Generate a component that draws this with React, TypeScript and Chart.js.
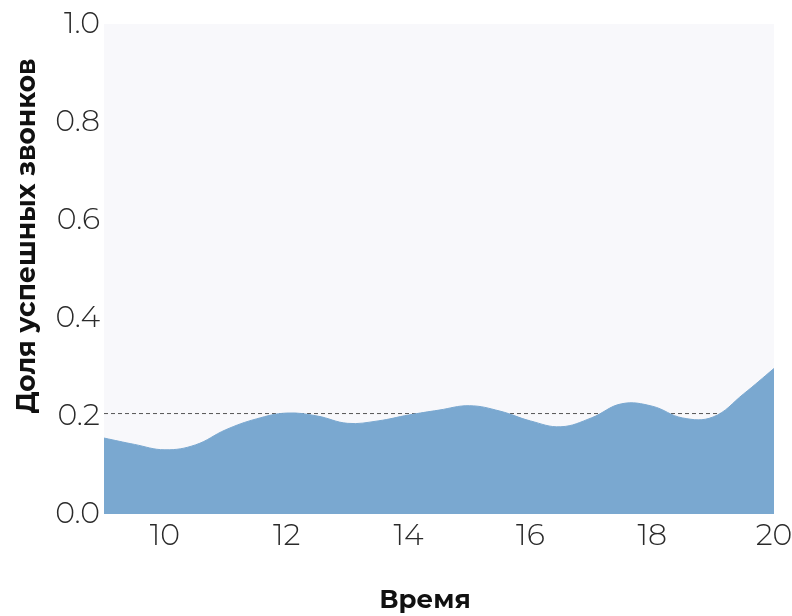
import React, { useEffect, useRef } from "react";
import { Chart, registerables } from "chart.js";

Chart.register(...registerables);

const hours = [9, 9.5, 10, 10.5, 11, 11.5, 12, 12.5, 13, 13.5, 14, 14.5, 15, 15.5, 16, 16.5, 17, 17.5, 18, 18.5, 19, 19.5, 20];
const shares = [0.155, 0.142, 0.131, 0.141, 0.172, 0.194, 0.206, 0.2, 0.185, 0.19, 0.202, 0.212, 0.221, 0.21, 0.19, 0.178, 0.196, 0.225, 0.22, 0.196, 0.198, 0.245, 0.297];
const meanShare = 0.205;
const xTicks = [10, 12, 14, 16, 18, 20];
const yTicks = [0, 0.2, 0.4, 0.6, 0.8, 1.0];
const xTitle = "Время";
const yTitle = "Доля успешных звонков";

const plotBg = {
  id: "plotBg",
  beforeDraw(chart: any) {
    const { ctx, chartArea } = chart;
    ctx.save();
    ctx.fillStyle = "#f8f8fb";
    ctx.fillRect(chartArea.left, chartArea.top, chartArea.right - chartArea.left, chartArea.bottom - chartArea.top);
    ctx.restore();
  },
};

const axisTitles = {
  id: "axisTitles",
  afterDraw(chart: any) {
    const { ctx } = chart;
    ctx.save();
    ctx.fillStyle = "#111";
    ctx.textAlign = "center";
    ctx.textBaseline = "middle";
    ctx.font = "bold 26px Montserrat, 'Open Sans', sans-serif";
    ctx.fillText(xTitle, 425, 600);
    ctx.font = "bold 26.5px Montserrat, 'Open Sans', sans-serif";
    ctx.translate(27, 236);
    ctx.rotate(-Math.PI / 2);
    ctx.fillText(yTitle, 0, 0);
    ctx.restore();
  },
};

export default function App() {
  const ref = useRef<HTMLCanvasElement>(null);
  useEffect(() => {
    const tickFont = { family: "Montserrat, Inter, 'Open Sans', sans-serif", size: 30, weight: 300 as any };
    const chart = new Chart(ref.current!, {
      type: "line",
      data: {
        datasets: [
          {
            data: hours.map((h, i) => ({ x: h, y: shares[i] })),
            fill: "origin",
            backgroundColor: "#7aa8d0",
            borderColor: "#7aa8d0",
            borderWidth: 1,
            pointRadius: 0,
            tension: 0.4,
          },
          {
            data: [{ x: hours[0], y: meanShare }, { x: hours[hours.length - 1], y: meanShare }],
            fill: false,
            borderColor: "#555555",
            borderWidth: 1,
            borderDash: [4, 3],
            pointRadius: 0,
          },
        ],
      },
      options: {
        animation: false,
        responsive: false,
        maintainAspectRatio: false,
        layout: { padding: { top: 24, right: 18, left: 0, bottom: 0 } },
        plugins: { legend: { display: false }, tooltip: { enabled: false } },
        scales: {
          x: {
            type: "linear",
            min: 9,
            max: 20,
            afterBuildTicks: (s: any) => { s.ticks = xTicks.map((v) => ({ value: v })); },
            afterFit: (s: any) => { s.height = 102; s.paddingRight = 0; s.paddingLeft = 0; },
            grid: { display: false, drawTicks: false },
            border: { display: false },
            ticks: { color: "#2a2a2a", font: tickFont, padding: 4, maxRotation: 0 },
          },
          y: {
            min: 0,
            max: 1,
            afterBuildTicks: (s: any) => { s.ticks = yTicks.map((v) => ({ value: v })); },
            afterFit: (s: any) => { s.width = 104; s.paddingTop = 0; s.paddingBottom = 0; },
            grid: { display: false, drawTicks: false },
            border: { display: false },
            ticks: { color: "#2a2a2a", font: tickFont, padding: 4, callback: (v: any) => Number(v).toFixed(1) },
          },
        },
      },
      plugins: [plotBg, axisTitles],
    });
    return () => chart.destroy();
  }, []);
  return (
    <div style={{ position: "fixed", left: 0, top: 0, width: 792, height: 616, background: "#fff" }}>
      <canvas ref={ref} width={792} height={616} style={{ width: 792, height: 616 }} />
    </div>
  );
}
